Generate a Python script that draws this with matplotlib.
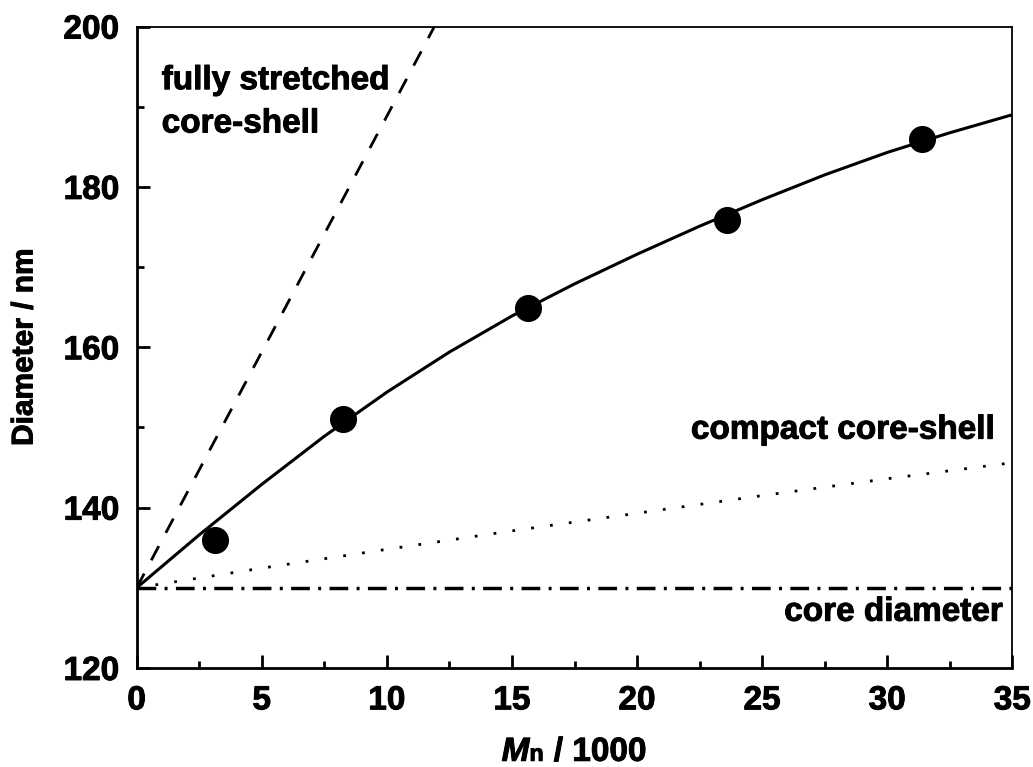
import matplotlib
matplotlib.use('Agg')
import matplotlib.pyplot as plt
import matplotlib.patheffects as pe
from matplotlib.ticker import MultipleLocator

# keep the subscript "n" on the baseline (as in the reference)
try:
    from matplotlib import _mathtext
    _mathtext.FontConstantsBase.subdrop = 0.0
    _mathtext.FontConstantsBase.sub1 = 0.0
except Exception:
    pass

# ---- data ----
mn_k = [3.13, 8.24, 15.66, 23.59, 31.39]           # Mn / 1000
diameter = [135.9, 151.0, 164.9, 175.9, 186.0]      # nm

fit_x = [0, 2.5, 5, 7.5, 10, 12.5, 15, 17.5, 20, 22.5, 25, 27.5, 30, 32.5, 35]
fit_y = [130.0, 136.6, 142.9, 148.9, 154.4, 159.4, 163.9, 167.9, 171.6,
         175.1, 178.4, 181.5, 184.3, 186.75, 189.0]

stretched_x = [0, 11.9]
stretched_y = [130.0, 200.0]

compact_x = [0, 5, 10, 15, 20, 25, 30, 35]
compact_y = [130.0, 132.45, 134.8, 137.1, 139.3, 141.5, 143.6, 145.6]

core_x = [0, 35]
core_y = [130.0, 130.0]

plt.rcParams['font.family'] = ['Liberation Sans', 'DejaVu Sans']
plt.rcParams['font.weight'] = 'bold'
plt.rcParams['mathtext.fontset'] = 'custom'
plt.rcParams['mathtext.rm'] = 'Liberation Sans:bold'
plt.rcParams['mathtext.it'] = 'Liberation Sans:italic:bold'
plt.rcParams['mathtext.bf'] = 'Liberation Sans:bold'

thick = [pe.withStroke(linewidth=0.7, foreground='black')]

fig = plt.figure(figsize=(10.33, 7.67), dpi=100)
ax = fig.add_axes([0.1323, 0.1291, 0.9800 - 0.1323, 0.9654 - 0.1291])

ax.plot(fit_x, fit_y, color='black', lw=2.2, zorder=3)
ax.plot(stretched_x, stretched_y, color='black', lw=2.0,
        linestyle=(0, (5.8, 5.4)), zorder=2)
ax.plot(compact_x, compact_y, color='black', lw=2.0,
        linestyle=(0, (1, 5.84)), zorder=2)
ax.plot(core_x, core_y, color='black', lw=2.5,
        linestyle=(0, (5.4, 2.4, 0.86, 2.4)), zorder=2)
ax.plot(mn_k, diameter, 'o', color='black', ms=19.5, mew=0, zorder=4)

ax.set_xlim(0, 35)
ax.set_ylim(120, 200)
ax.xaxis.set_major_locator(MultipleLocator(5))
ax.xaxis.set_minor_locator(MultipleLocator(2.5))
ax.yaxis.set_major_locator(MultipleLocator(20))
ax.yaxis.set_minor_locator(MultipleLocator(10))

ax.tick_params(which='both', direction='in', top=False, right=False,
               width=2, labelsize=24, pad=12.5)
ax.tick_params(which='major', length=9.4)
ax.tick_params(which='minor', length=5)
for lab in ax.get_xticklabels() + ax.get_yticklabels():
    lab.set_path_effects(thick)

for s in ['left', 'bottom']:
    ax.spines[s].set_linewidth(2)
for s in ['top', 'right']:
    ax.spines[s].set_linewidth(1.3)

xl = ax.set_xlabel(r'$\mathit{M}_{\mathrm{n}}$ / 1000', fontsize=24,
                   fontweight='bold', va='baseline')
ax.xaxis.set_label_coords(0.5, -0.145)
xl.set_path_effects(thick)
yl = ax.set_ylabel('Diameter / nm', fontsize=21.5, fontweight='bold',
                   labelpad=18)
yl.set_path_effects(thick)

ann = dict(fontsize=24, fontweight='bold', va='baseline',
           path_effects=thick)
ax.text(1.0, 192.19, 'fully stretched', ha='left', **ann)
ax.text(1.0, 186.79, 'core-shell', ha='left', **ann)
ax.text(34.32, 148.6, 'compact core-shell', ha='right', **ann)
ax.text(34.63, 125.89, 'core diameter', ha='right', **ann)

fig.savefig('out.png', dpi=100)
